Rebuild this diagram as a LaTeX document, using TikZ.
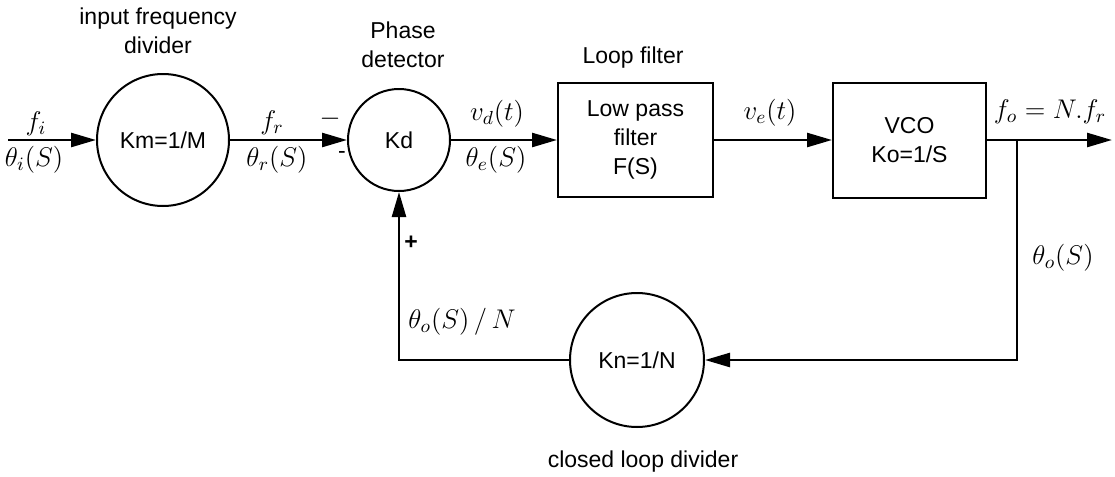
\RequirePackage{fix-cm}
\documentclass[tikz,border=0pt]{standalone}
\usepackage{fontspec}
\setmainfont{Liberation Sans}
\usetikzlibrary{arrows.meta}
\newcommand\dgtext{\fontsize{11.5}{14.5}\selectfont}
\newcommand\dgmath{\fontsize{13.5}{16}\selectfont}
\tikzset{
  wire/.style={line width=1.25pt},
  arr/.style={wire,-{Triangle[length=12.5pt,width=7pt]}},
  blk/.style={draw,line width=1pt,inner sep=0pt,align=center,font=\dgtext},
  circ/.style={blk,circle},
  lbl/.style={font=\dgtext,align=center,inner sep=0pt},
  mlbl/.style={font=\dgmath,inner sep=0pt},
}
\begin{document}
\begin{tikzpicture}[x=0.5pt,y=-0.5pt]
\useasboundingbox (0,0) rectangle (1115,477);
% blocks
\node[circ,minimum size=66pt] (km) at (163,140) {Km=1/M};
\node[circ,minimum size=51pt] (kd) at (399,140) {Kd};
\node[blk,minimum width=77.5pt,minimum height=57pt] (lpf) at (635.5,140) {Low pass\\filter\\F(S)};
\node[blk,minimum width=76.5pt,minimum height=57.5pt] (vco) at (909.5,140) {VCO\\Ko=1/S};
\node[circ,minimum size=67pt] (kn) at (637,360) {Kn=1/N};
% titles
\node[lbl] (t1) at (158,31) {input frequency\\divider};
\node[lbl] (t2) at (403,45) {Phase\\detector};
\node[lbl] (t3) at (633,58) {Loop filter};
\node[lbl] (t4) at (643,462) {closed loop divider};
% coordinates
\coordinate (in) at (8,140);
\coordinate (out) at (1112,140);
\coordinate (br) at (1017,140);
\coordinate (c1) at (1017,360);
\coordinate (c2) at (399,360);
% connectors
\draw[arr] (in) -- (km);
\draw[arr] (km) -- (kd);
\draw[arr] (kd) -- (lpf);
\draw[arr] (lpf) -- (vco);
\draw[arr] (vco) -- (out);
\draw[arr] (br) -- (c1) -- (kn);
\draw[arr] (kn) -- (c2) -- (kd);
% signal labels
\node[mlbl] (l1) at (36,124) {$f_i$};
\node[mlbl] (l2) at (34,160) {$\theta_i(S)$};
\node[mlbl] (l3) at (272,123) {$f_r$};
\node[mlbl] (l4) at (277,160) {$\theta_r(S)$};
\node[mlbl] (l5) at (330,119) {$-$};
\node[lbl] (l6) at (342,155) {-};
\node[mlbl] (l7) at (497,114) {$v_d(t)$};
\node[mlbl] (l8) at (496,160) {$\theta_e(S)$};
\node[mlbl] (l9) at (770,113) {$v_e(t)$};
\node[mlbl] (l10) at (1050,112) {$f_o = N.f_r$};
\node[mlbl] (l11) at (1063,258) {$\theta_o(S)$};
\node[lbl,font=\dgtext\bfseries] (l12) at (411,243) {+};
\node[mlbl] (l13) at (462,322) {$\theta_o(S)\,/\,N$};
\end{tikzpicture}
\end{document}
